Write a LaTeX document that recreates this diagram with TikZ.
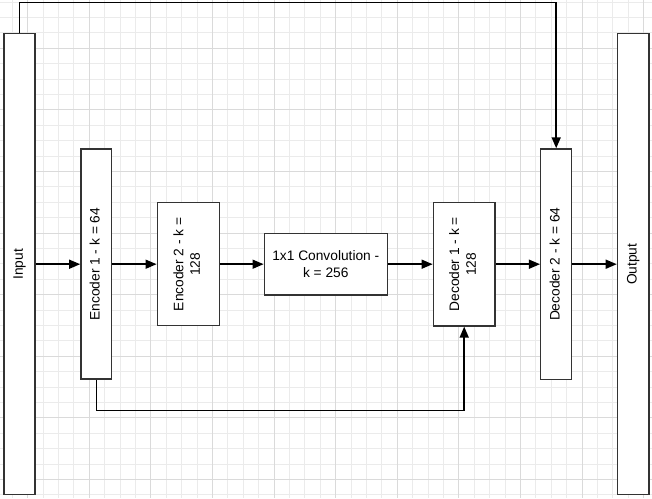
\documentclass[tikz,border=0pt]{standalone}
\usepackage{fontspec}
\setmainfont{Liberation Sans}
\usepackage{graphicx}
\usetikzlibrary{arrows.meta}
\definecolor{gridminor}{HTML}{EBEBEB}
\definecolor{gridmajor}{HTML}{DADADA}
\definecolor{boxline}{HTML}{333333}
\newcommand{\uptext}[1]{\rotatebox{90}{\begin{tabular}{@{}c@{}}#1\end{tabular}}}

\begin{document}
\begin{tikzpicture}[x=1pt,y=-1pt,
	blk/.style={draw=boxline,fill=white,line width=1.5pt,inner sep=0pt,font=\fontsize{13.75}{16.7}\selectfont},
	arr/.style={-{Triangle[length=11pt,width=9pt]},line width=1.5pt}]
	\useasboundingbox (0,0) rectangle (652,498);
	\fill[white] (0,0) rectangle (652,498);

	% grid
	\foreach \x in {12.3,27.7,...,652} \draw[gridminor,line width=1pt] (\x,0) -- (\x,498);
	\foreach \y in {2.1,17.5,...,498} \draw[gridminor,line width=1pt] (0,\y) -- (652,\y);
	\foreach \x in {27.7,89.3,...,652} \draw[gridmajor,line width=1pt] (\x,0) -- (\x,498);
	\foreach \y in {48.3,109.9,...,498} \draw[gridmajor,line width=1pt] (0,\y) -- (652,\y);

	\node 	(in)		at	(19.5,264.2) 	[blk,minimum width=30.8pt,minimum height=461pt]{\uptext{Input}};

	\node 	(enc1)		at	(96.3,264.2) 	[blk,minimum width=30.8pt,minimum height=230pt]{\uptext{Encoder 1 - k = 64}};

	\node 	(enc2)		at	(188.3,264.2) 	[blk,minimum width=62pt,minimum height=123pt]{\uptext{Encoder 2 - k =\\128}};

	\node 	(conv)		at	(325.8,264.2) 	[blk,minimum width=123pt,minimum height=61.3pt,align=center]{1x1 Convolution -\\k = 256};

	\node 	(dec1)		at	(464.2,264.2) 	[blk,minimum width=61.7pt,minimum height=123.3pt]{\uptext{Decoder 1 - k =\\128}};

	\node 	(dec2)		at	(556.2,264.2) 	[blk,minimum width=31pt,minimum height=230.3pt]{\uptext{Decoder 2 - k = 64}};

	\node 	(out)		at	(633.2,264.2) 	[blk,minimum width=31.5pt,minimum height=461pt]{\uptext{Output}};

	\coordinate (topR) at (556.2,2.7);
	\coordinate (botR) at (464.2,410.7);

	\draw[arr] (in) -- (enc1);
	\draw[arr] (enc1) -- (enc2);
	\draw[arr] (enc2) -- (conv);
	\draw[arr] (conv) -- (dec1);
	\draw[arr] (dec1) -- (dec2);
	\draw[arr] (dec2) -- (out);
	\draw[arr] (in.north) |- (topR) -- (dec2.north);
	\draw[arr] (enc1.south) |- (botR) -- (dec1.south);

\end{tikzpicture}
\end{document}
